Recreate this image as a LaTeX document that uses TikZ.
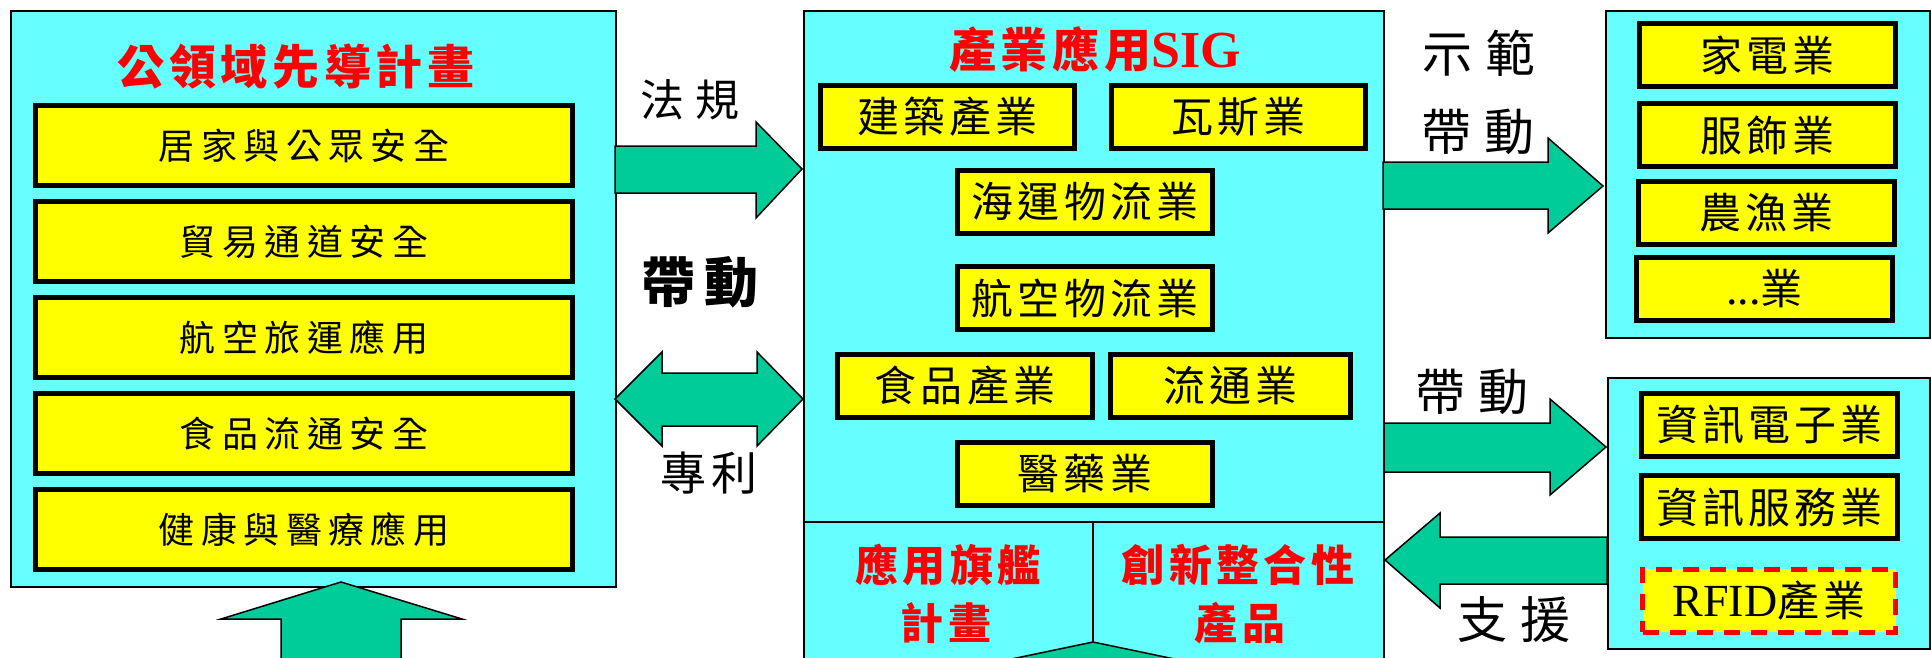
\documentclass[tikz,border=0pt]{standalone}
\usepackage{fontspec}
\newfontfamily\cjk{Noto Sans CJK TC}[LetterSpace=10]
\newfontfamily\cjkw{Noto Sans CJK TC}[LetterSpace=18]
\newfontfamily\cjkl{Noto Sans CJK TC}[LetterSpace=25]
\newfontfamily\tms{Liberation Serif}
\definecolor{cyanbg}{HTML}{66FFFF}
\definecolor{ylw}{HTML}{FFFF00}
\definecolor{grn}{HTML}{00CC99}
\definecolor{rd}{HTML}{FF0000}
\newcommand{\fsz}[1]{\fontsize{#1}{#1}\selectfont}
\tikzset{
  panel/.style={fill=cyanbg, draw=black, line width=1.5pt, inner sep=0pt, anchor=north west},
  ybox/.style={fill=ylw, draw=black, line width=5pt, inner sep=0pt, minimum height=63pt},
  lbox/.style={ybox, minimum width=537pt, minimum height=80pt, font=\cjkw\fsz{36}},
  mbox/.style={ybox, font=\cjk\fsz{42}},
  rbox/.style={ybox, minimum width=256pt, font=\cjk\fsz{42}},
  dbox/.style={fill=ylw, draw=rd, line width=5pt, dash pattern=on 16pt off 11pt, inner sep=0pt, minimum height=63pt, minimum width=253pt},
  blk/.style={fill=grn, draw=black, line width=1.5pt, line join=miter},
  lbl/.style={inner sep=0pt, font=\cjkl\fsz{46}},
  rtitle/.style={inner sep=0pt, text=rd, font=\cjk\bfseries\fsz{47}},
  rsub/.style={inner sep=0pt, text=rd, font=\cjk\bfseries\fsz{43}},
}
\begin{document}
\begin{tikzpicture}[x=1pt, y=-1pt]
\useasboundingbox (0,0) rectangle (1931,657);
\clip (0,0) rectangle (1931,657);
\fill[white] (0,0) rectangle (1931,657);

% panels
\node[panel, minimum width=605pt, minimum height=576pt] (L) at (10,10) {};
\node[panel, minimum width=580pt, minimum height=700pt] (M) at (803,10) {};
\node[panel, minimum width=324pt, minimum height=327pt] (RT) at (1605,10) {};
\node[panel, minimum width=322pt, minimum height=271pt] (RB) at (1607,377) {};

% middle dividers
\coordinate (dl) at (803,522);
\coordinate (dr) at (1383,522);
\coordinate (dt) at (1093,522);
\coordinate (db) at (1093,680);
\draw[line width=1.5pt] (dl) -- (dr);
\draw[line width=1.5pt] (dt) -- (db);

% left panel
\node[rtitle] (Lt) at (296,67) {公領域先導計畫};
\node[lbox] (L1) at (304,145.5) {居家與公眾安全};
\node[lbox] (L2) at (304,241.5) {貿易通道安全};
\node[lbox] (L3) at (304,337.5) {航空旅運應用};
\node[lbox] (L4) at (304,433.5) {食品流通安全};
\node[lbox] (L5) at (304,529.5) {健康與醫療應用};

% middle panel
\node[inner sep=0pt, text=rd] (Mt) at (1095,50) {{\cjk\bfseries\fsz{47}產業應用}{\tms\bfseries\fsz{52}SIG}};
\node[mbox, minimum width=254pt] (M1) at (947.5,117) {建築產業};
\node[mbox, minimum width=254pt] (M2) at (1238.5,117) {瓦斯業};
\node[mbox, minimum width=255pt] (M3) at (1085,202) {海運物流業};
\node[mbox, minimum width=255pt] (M4) at (1085,298) {航空物流業};
\node[mbox, minimum width=255pt] (M5) at (965,386) {食品產業};
\node[mbox, minimum width=240pt] (M6) at (1230.5,386) {流通業};
\node[mbox, minimum width=255pt] (M7) at (1085,473.5) {醫藥業};
\node[rsub] (B1a) at (948,565) {應用旗艦};
\node[rsub] (B1b) at (946,623) {計畫};
\node[rsub] (B2a) at (1238,565) {創新整合性};
\node[rsub] (B2b) at (1240,623) {產品};

% right top panel
\node[rbox] (R1) at (1767.5,55) {家電業};
\node[rbox] (R2) at (1767.5,135) {服飾業};
\node[rbox] (R3) at (1766.5,213) {農漁業};
\node[rbox] (R4) at (1764.5,288.5) {{\tms\fsz{46}...}{\cjk\fsz{42}業}};

% right bottom panel
\node[rbox] (R5) at (1769.5,424.5) {資訊電子業};
\node[rbox] (R6) at (1769.5,507) {資訊服務業};
\node[dbox] (R7) at (1769,600.5) {{\tms\fsz{46}RFID}{\cjk\fsz{42}產業}};

% block arrows
\draw[blk] (615,146) -- (756,146) -- (756,122) -- (802,169) -- (756,218) -- (756,193) -- (615,193) -- cycle;
\draw[blk] (615,399) -- (662,352) -- (662,373) -- (757,373) -- (757,352) -- (803,399) -- (757,446) -- (757,426) -- (662,426) -- (662,446) -- cycle;
\draw[blk] (1383,162) -- (1548,162) -- (1548,138) -- (1603,186) -- (1548,233) -- (1548,209) -- (1383,209) -- cycle;
\draw[blk] (1384,423) -- (1550,423) -- (1550,399) -- (1606,447) -- (1550,495) -- (1550,472) -- (1384,472) -- cycle;
\draw[blk] (1385,560) -- (1440,513) -- (1440,537) -- (1607,537) -- (1607,584) -- (1440,584) -- (1440,608) -- cycle;
\draw[blk] (341,582) -- (462,619) -- (401,619) -- (401,680) -- (281,680) -- (281,619) -- (221,619) -- cycle;
\draw[blk] (1093,642) -- (1275,680) -- (911,680) -- cycle;

% labels
\node[lbl, font=\cjkl\fsz{44}] (t1) at (690,100) {法規};
\node[lbl, font=\cjkw\bfseries\fsz{54}] (t2) at (700,282) {帶動};
\node[lbl, font=\cjk\fsz{46}] (t3) at (709,473) {專利};
\node[lbl, font=\cjkl\fsz{50}] (t4) at (1479,53) {示範};
\node[lbl, font=\cjkl\fsz{50}] (t5) at (1478,132) {帶動};
\node[lbl, font=\cjkl\fsz{50}] (t6) at (1472,392) {帶動};
\node[lbl, font=\cjkl\fsz{50}] (t7) at (1514,620) {支援};
\end{tikzpicture}
\end{document}
